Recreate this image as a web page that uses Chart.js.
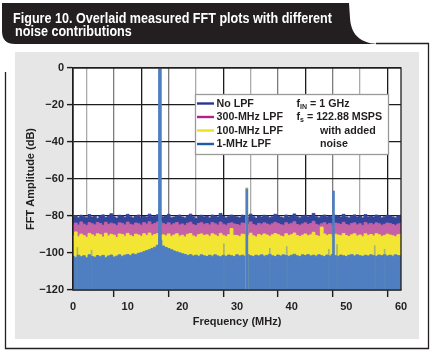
<!DOCTYPE html>
<html><head><meta charset="utf-8">
<script src="https://cdn.jsdelivr.net/npm/chart.js@4.4.1/dist/chart.umd.min.js"></script>
<style>html,body{margin:0;padding:0;background:#fff;}canvas{display:block;}</style>
</head><body>
<canvas id="c" width="433" height="353"></canvas>
<script>
// ---------------- data ----------------
const titleLines = ['Figure 10. Overlaid measured FFT plots with different', 'noise contributions'];
const seriesLabels = ['No LPF', '300-MHz LPF', '100-MHz LPF', '1-MHz LPF'];
const noteLines = [['f', 'IN', ' = 1 GHz'], ['f', 's', ' = 122.88 MSPS'], ['', '', 'with added'], ['', '', 'noise']];
const xTitle = 'Frequency (MHz)';
const yTitle = 'FFT Amplitude (dB)';
const xTickLabels = [0, 10, 20, 30, 40, 50, 60];
const yTickValues = [0, -20, -40, -60, -80, -100, -120];

const freqMHz = [
 0,0.5,1,1.5,2,2.5,3,3.5,4,4.5, 5,5.5,6,6.5,7,7.5,8,8.5,9,9.5,
 10,10.5,11,11.5,12,12.5,13,13.5,14,14.5, 15,15.5,16,16.5,17,17.5,18,18.5,19,19.5,
 20,20.5,21,21.5,22,22.5,23,23.5,24,24.5, 25,25.5,26,26.5,27,27.5,28,28.5,29,29.5,
 30,30.5,31,31.5,32,32.5,33,33.5,34,34.5, 35,35.5,36,36.5,37,37.5,38,38.5,39,39.5,
 40,40.5,41,41.5,42,42.5,43,43.5,44,44.5, 45,45.5,46,46.5,47,47.5,48,48.5,49,49.5,
 50,50.5,51,51.5,52,52.5,53,53.5,54,54.5, 55,55.5,56,56.5,57,57.5,58,58.5,59,59.5, 60];

const noLpf = [
 -80.5,-79.8,-80.9,-79.6,-80.4,-81.0,-79.2,-80.6,-80.1,-81.2,
 -80.0,-79.4,-80.8,-80.2,-78.8,-80.5,-81.1,-79.6,-80.0,-80.7,
 -79.1,-80.4,-81.0,-80.1,-79.5,-80.9,-80.2,-80.6,-79.0,-80.4,
 -80.1,-79.3,-79.6,-80.5,-80.0,-79.1,-80.9,-80.6,-80.1,-79.5,
 -80.6,-81.0,-80.0,-79.0,-80.4,-81.3,-80.1,-79.6,-80.5,-80.2,
 -81.0,-79.5,-80.1,-80.6,-78.6,-80.2,-81.0,-80.4,-79.5,-80.1,
 -80.5,-80.9,-79.6,-80.0,-80.6,-79.0,-80.4,-81.1,-80.0,-80.6,
 -79.6,-80.1,-80.9,-80.4,-79.1,-80.0,-80.6,-81.0,-79.5,-80.5,
 -80.0,-78.9,-80.4,-81.0,-80.1,-79.6,-80.5,-80.0,-78.6,-80.4,
 -81.0,-80.1,-79.5,-80.5,-80.0,-81.0,-79.6,-80.0,-80.6,-79.1,
 -80.5,-81.0,-80.1,-79.4,-80.6,-80.0,-81.0,-79.2,-80.5,-80.1,
 -80.6,-79.5,-80.0,-81.0,-80.4,-79.6,-80.0,-80.5,-81.0,-80.0, -79.6];

const lpf300 = [
 -84.5,-83.8,-84.9,-83.2,-84.4,-85.1,-83.6,-84.2,-84.8,-83.5,
 -84.1,-85.0,-83.4,-84.6,-83.9,-84.3,-85.2,-83.7,-84.0,-84.8,
 -83.3,-84.5,-84.9,-83.8,-84.2,-85.0,-83.6,-84.4,-83.1,-84.6,
 -84.0,-83.2,-83.0,-84.1,-84.6,-83.7,-84.9,-84.2,-83.5,-84.8,
 -84.3,-85.1,-83.9,-83.4,-84.7,-85.2,-84.0,-83.6,-84.5,-84.1,
 -84.8,-83.5,-84.2,-84.9,-83.3,-84.4,-85.0,-84.1,-83.7,-84.3,
 -84.6,-85.0,-83.8,-84.0,-84.5,-83.2,-84.6,-85.1,-84.0,-84.4,
 -83.7,-84.3,-84.9,-84.2,-83.4,-84.1,-84.7,-85.0,-83.6,-84.5,
 -84.0,-83.1,-84.6,-85.0,-84.3,-83.7,-84.6,-84.1,-82.9,-84.5,
 -85.0,-84.2,-83.6,-84.7,-84.0,-85.1,-83.8,-84.2,-84.6,-83.4,
 -84.6,-85.0,-84.1,-83.7,-84.8,-84.2,-85.1,-83.5,-84.4,-84.0,
 -84.7,-83.7,-84.2,-85.0,-84.5,-83.8,-84.1,-84.6,-85.2,-84.3, -83.9];

const lpf100 = [
 -90.5,-88.6,-91.2,-89.8,-90.6,-91.5,-89.4,-90.2,-91.0,-89.6,
 -90.1,-91.4,-89.3,-90.8,-89.9,-90.4,-91.6,-89.7,-90.0,-90.9,
 -89.4,-90.6,-91.2,-89.8,-90.3,-91.0,-89.6,-90.5,-89.2,-90.7,
 -90.0,-89.5,-90.6,-90.2,-90.8,-89.7,-91.0,-90.3,-89.6,-90.9,
 -90.4,-91.3,-89.9,-89.5,-90.8,-91.4,-90.1,-89.7,-90.6,-90.2,
 -91.0,-89.6,-90.3,-91.1,-89.4,-90.5,-91.2,-90.1,-86.8,-90.4,
 -90.6,-91.1,-89.8,-90.1,-90.6,-89.3,-90.7,-91.3,-90.0,-90.5,
 -89.7,-90.3,-91.0,-90.2,-89.5,-90.1,-90.8,-91.2,-89.6,-90.6,
 -90.1,-89.2,-90.6,-91.1,-90.4,-89.7,-90.7,-90.2,-88.8,-90.5,
 -91.0,-86.0,-89.7,-90.6,-90.0,-91.2,-89.8,-90.3,-90.7,-89.5,
 -90.6,-91.1,-90.2,-89.6,-90.8,-90.3,-91.2,-89.6,-90.5,-90.0,
 -90.8,-89.6,-90.2,-91.0,-90.5,-89.8,-90.3,-90.7,-91.2,-90.1, -89.8];

const lpf1 = [
 -101.8,-102.4,-101.2,-102.0,-101.5,-102.6,-101.0,-101.9,-102.3,-101.4,
 -102.0,-101.3,-102.5,-101.6,-101.1,-102.2,-101.7,-101.0,-101.8,-101.2,
 -100.8,-101.4,-100.5,-100.9,-100.2,-99.8,-99.3,-98.7,-98.2,-97.5,
 -96.9,-95.8,-93.0,-96.2,-97.0,-97.6,-98.2,-98.9,-99.4,-99.9,
 -100.4,-100.8,-101.3,-100.9,-101.6,-101.2,-101.8,-101.0,-101.5,-101.9,
 -101.2,-101.7,-101.0,-101.6,-102.0,-101.3,-101.8,-101.1,-101.5,-101.9,
 -101.0,-101.6,-101.2,-101.8,-100.9,-101.5,-101.9,-101.2,-101.6,-101.0,
 -101.7,-101.3,-100.8,-101.5,-101.9,-101.1,-101.6,-101.0,-101.4,-101.8,
 -101.2,-100.7,-101.5,-101.9,-101.0,-101.4,-100.9,-101.6,-101.2,-101.7,
 -101.0,-101.5,-101.9,-101.1,-101.6,-100.8,-101.4,-101.8,-101.1,-101.5,
 -101.9,-101.2,-100.9,-101.6,-101.0,-101.5,-101.8,-101.2,-101.6,-101.0,
 -101.4,-101.8,-101.1,-101.5,-100.9,-101.6,-101.2,-101.7,-101.0,-101.4, -101.6];

// discrete tones
const fundFreq = [15.9];
const fundLevel = [0];
const harmFreq = [31.8, 47.65];
const harmLevel = [-65.3, -66.5];
const yellowSpurFreq = [31.8];
const yellowSpurLevel = [-64.7];
const thinSpurFreq = [0.8, 3.4, 27.6, 36.0, 39.1, 46.8, 48.3, 55.2, 57.0];
const thinSpurLevel = [-97, -98.5, -95, -97.5, -96.5, -98, -95.5, -96, -98];

// ---------------- chart ----------------
const FLOOR = -120;
const xy = (xs, ys) => xs.map((x, i) => ({x: x, y: ys[i]}));
const bars = (xs, ys) => xs.map((x, i) => ({x: x, y: [FLOOR, ys[i]]}));
const INK = '#231f20';
const FONT = '"Liberation Sans", Arial, Helvetica, sans-serif';
const noteIndent = [0, 0, 23.5, 23.5];

const lineBase = {type: 'line', fill: 'start', stepped: 'middle', pointRadius: 0, borderWidth: 1, tension: 0};
const barBase = {type: 'bar', grouped: false, borderWidth: 0};

const decor = {
  id: 'decor',
  beforeDraw(chart) {
    const ctx = chart.ctx, a = chart.chartArea;
    ctx.save();
    ctx.fillStyle = '#fff'; ctx.fillRect(0, 0, chart.width, chart.height);
    ctx.fillStyle = '#e6e6e6'; ctx.fillRect(15, 52, 404, 287);
    ctx.fillStyle = '#fff'; ctx.fillRect(a.left, a.top, a.right - a.left, a.bottom - a.top);
    // frame
    ctx.strokeStyle = INK; ctx.lineWidth = 1.3;
    ctx.beginPath();
    ctx.moveTo(376, 43.5); ctx.lineTo(428.5, 43.5); ctx.lineTo(428.5, 348.5);
    ctx.lineTo(5.5, 348.5); ctx.lineTo(5.5, 72);
    ctx.stroke();
    // header tab
    ctx.fillStyle = INK;
    ctx.beginPath();
    ctx.moveTo(2, 3); ctx.lineTo(349, 3); ctx.lineTo(350, 18);
    ctx.bezierCurveTo(351, 36, 362, 44, 380, 44);
    ctx.lineTo(15, 44);
    ctx.quadraticCurveTo(2, 44, 2, 31);
    ctx.closePath(); ctx.fill();
    // header text
    ctx.fillStyle = '#fff';
    ctx.font = 'bold 15px "Liberation Sans Narrow", "Liberation Sans", Arial, sans-serif';
    ctx.textBaseline = 'alphabetic'; ctx.textAlign = 'left';
    const w = ctx.measureText(titleLines[0]).width;
    const k = 319 / w;
    ctx.save(); ctx.translate(13, 22.5); ctx.scale(k, 1); ctx.fillText(titleLines[0], 0, 0); ctx.restore();
    ctx.save(); ctx.translate(15, 35.5); ctx.scale(k, 1); ctx.fillText(titleLines[1], 0, 0); ctx.restore();
    ctx.restore();
  },
  afterDraw(chart) {
    const ctx = chart.ctx, a = chart.chartArea;
    ctx.save();
    // plot frame
    ctx.strokeStyle = INK; ctx.lineWidth = 1.3;
    ctx.strokeRect(a.left, a.top, a.right - a.left, a.bottom - a.top);
    // legend box
    ctx.fillStyle = '#fff'; ctx.fillRect(195, 94, 193, 60);
    ctx.strokeStyle = '#9a9a9a'; ctx.lineWidth = 1.3; ctx.strokeRect(195.5, 94.5, 193, 60);
    const rows = [103.5, 117, 130.5, 144];
    ctx.textBaseline = 'middle'; ctx.textAlign = 'left';
    const items = chart.data.datasets.filter(d => d.legendColor);
    items.forEach((d, i) => {
      ctx.strokeStyle = d.legendColor; ctx.lineWidth = 2.4;
      ctx.beginPath(); ctx.moveTo(197, rows[i]); ctx.lineTo(214, rows[i]); ctx.stroke();
      ctx.fillStyle = INK; ctx.font = 'bold 10.7px ' + FONT;
      ctx.fillText(d.label, 216.5, rows[i] + 0.5);
    });
    noteLines.forEach((parts, i) => {
      let x = 296.5 + noteIndent[i];
      const y = rows[i] + 0.5;
      ctx.fillStyle = INK;
      ctx.font = 'bold 10.7px ' + FONT;
      ctx.fillText(parts[0], x, y); x += ctx.measureText(parts[0]).width;
      ctx.font = 'bold 7px ' + FONT;
      ctx.fillText(parts[1], x, y + 3); x += ctx.measureText(parts[1]).width;
      ctx.font = 'bold 10.7px ' + FONT;
      ctx.fillText(parts[2], x, y);
    });
    ctx.restore();
  }
};

const xGridColor = c => {
  const v = c.tick ? c.tick.value : 0;
  if (v % 15 === 0) return '#1c1c1c';
  if (v % 10 === 0) return '#7c7c7c';
  return '#ababab';
};

new Chart(document.getElementById('c'), {
  type: 'line',
  data: {
    datasets: [
      {...lineBase, label: seriesLabels[0], data: xy(freqMHz, noLpf), backgroundColor: '#34449b', borderColor: '#34449b', order: 4, legendColor: '#2a3591'},
      {...lineBase, label: seriesLabels[1], data: xy(freqMHz, lpf300), backgroundColor: '#c462a8', borderColor: '#c462a8', order: 3, legendColor: '#b3208a'},
      {...lineBase, label: seriesLabels[2], data: xy(freqMHz, lpf100), backgroundColor: '#f3e534', borderColor: '#f3e534', order: 2, legendColor: '#f2df1c'},
      {...lineBase, label: seriesLabels[3], data: xy(freqMHz, lpf1), backgroundColor: '#4f7fc1', borderColor: '#4f7fc1', order: 1, legendColor: '#1e5aa8'},
      {...barBase, label: 'thin spurs', data: bars(thinSpurFreq, thinSpurLevel), backgroundColor: 'rgba(90,135,185,0.5)', barThickness: 1, order: 0.6},
      {...barBase, label: '100-MHz spur', data: bars(yellowSpurFreq, yellowSpurLevel), backgroundColor: '#e8d83a', barThickness: 2, order: 0.5},
      {...barBase, label: 'harmonics', data: bars(harmFreq, harmLevel), backgroundColor: '#4f7fc1', barThickness: 2, order: 0.1},
      {...barBase, label: 'fundamental', data: bars(fundFreq, fundLevel), backgroundColor: '#4f7fc1', barThickness: 3, order: 0}
    ]
  },
  options: {
    responsive: false,
    animation: false,
    events: [],
    layout: {padding: {left: 15, top: 68, right: 32, bottom: 0}},
    plugins: {legend: {display: false}, tooltip: {enabled: false}, title: {display: false}},
    scales: {
      x: {
        type: 'linear', min: 0, max: 60, offset: false, z: 1,
        afterFit: s => { s.height = 63; },
        ticks: {
          stepSize: 5, autoSkip: false, maxRotation: 0, padding: 3, color: INK,
          font: {family: FONT, weight: 'bold', size: 11},
          callback: v => xTickLabels.includes(v) ? String(v) : ''
        },
        grid: {
          color: xGridColor, lineWidth: 1.3, tickLength: 7, tickWidth: 1.4,
          tickColor: c => (c.tick && xTickLabels.includes(c.tick.value)) ? '#1c1c1c' : 'rgba(0,0,0,0)'
        },
        border: {display: true, color: '#1c1c1c', width: 1.3},
        title: {display: true, text: xTitle, color: INK, font: {family: FONT, weight: 'bold', size: 11}, padding: {top: 0, bottom: 24}}
      },
      y: {
        type: 'linear', min: -120, max: 0,
        afterFit: s => { s.width = 58; },
        afterBuildTicks: s => { s.ticks = yTickValues.map(v => ({value: v})); },
        ticks: {
          padding: 3, color: INK, font: {family: FONT, weight: 'bold', size: 11},
          callback: v => v === 0 ? '0' : '\u2212' + Math.abs(v)
        },
        grid: {color: '#1c1c1c', lineWidth: 1.2, tickLength: 6, tickColor: '#1c1c1c', tickWidth: 1.4},
        border: {display: true, color: '#1c1c1c', width: 1.3},
        title: {display: true, text: yTitle, color: INK, font: {family: FONT, weight: 'bold', size: 11}, padding: {top: 9, bottom: 0}}
      }
    }
  },
  plugins: [decor]
});
</script>
</body></html>
